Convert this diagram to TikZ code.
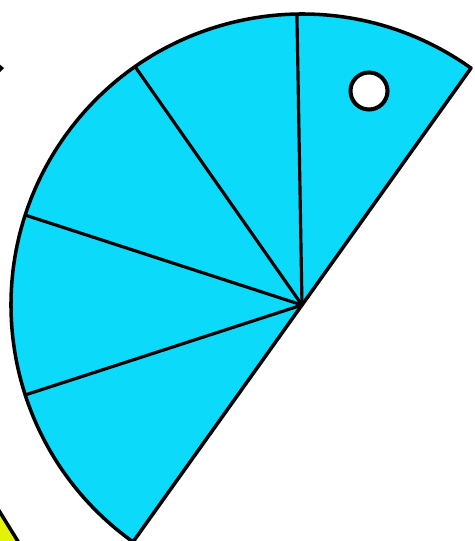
\documentclass[tikz,border=0pt]{standalone}
\usepackage{xcolor}
\usetikzlibrary{calc}
\definecolor{sectorcyan}{RGB}{12,218,250}
\definecolor{cornyellow}{RGB}{228,242,10}
\tikzset{
  edge/.style={line width=2pt,line join=round},
  spoke/.style={line width=1.8pt}
}
\begin{document}
\begin{tikzpicture}[x=0.02cm,y=-0.02cm]
\useasboundingbox (0,0) rectangle (475,541);
% Yellow piece in the lower left corner
\fill[cornyellow] (-2,511) -- (19,543) -- (-2,543) -- cycle;
\draw[edge] (-2,509) -- (19,543);
% Dark mark on the left edge
\fill[black] (-2,63) -- (4,68) -- (-2,74) -- cycle;

% Half disc split into five sectors
\coordinate (C) at (302,305);
\filldraw[sectorcyan,draw=black,edge] (C) -- ++(-54.5:291) arc[start angle=-54.5,end angle=-234.5,radius=291] -- cycle;
\foreach \a in {91,125,162,198} {
  \draw[spoke] (C) -- ++(-\a:290);
}

% Small hole
\node[circle,draw=black,fill=white,line width=2.3pt,minimum size=0.74cm,inner sep=0pt] (hole) at (369,91) {};
\end{tikzpicture}
\end{document}
